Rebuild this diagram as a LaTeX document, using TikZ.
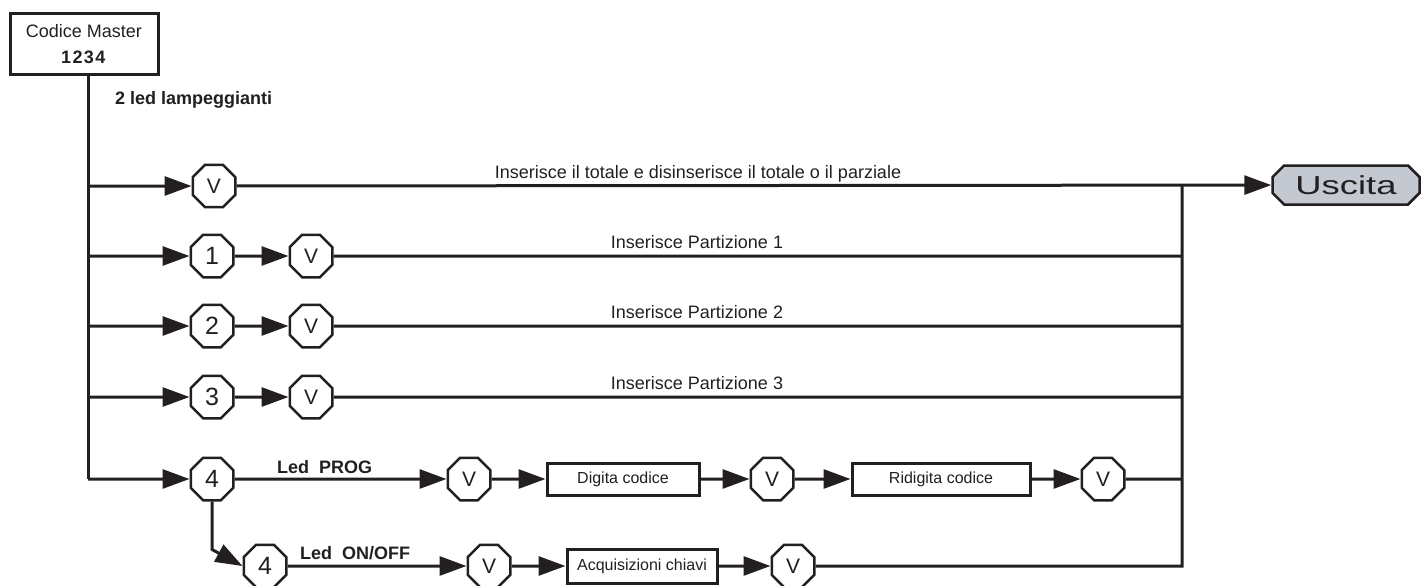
\documentclass[tikz,border=0pt]{standalone}
\usepackage{fontspec}
\usepackage{graphicx}
\setmainfont{Liberation Sans}
\usetikzlibrary{arrows.meta,shapes.geometric,shapes.misc}
\definecolor{ink}{RGB}{35,31,32}
\definecolor{exitgray}{RGB}{196,200,208}

\begin{document}
\begin{tikzpicture}[x=1pt,y=-1pt,
    wire/.style={draw=ink,line width=3pt},
    arr/.style={wire,-{Triangle[length=27pt,width=19pt]}},
    oct/.style={regular polygon,regular polygon sides=8,minimum size=46pt,inner sep=0pt,
        draw=ink,line width=2.5pt,fill=white,text=ink,font=\fontsize{25}{25}\selectfont},
    vkey/.style={oct,font=\fontsize{21}{21}\selectfont},
    tbox/.style={rectangle,draw=ink,line width=3pt,minimum height=32pt,inner sep=0pt,
        fill=white,text=ink,font=\fontsize{16}{16}\selectfont},
    exitbox/.style={chamfered rectangle,chamfered rectangle xsep=8pt,minimum width=147pt,
        minimum height=39pt,inner sep=0pt,draw=ink,line width=2.5pt,fill=exitgray,
        text=ink,font=\fontsize{26}{26}\selectfont},
    lbl/.style={anchor=base,inner sep=0pt,text=ink,font=\fontsize{18}{18}\selectfont},
    blbl/.style={anchor=base west,inner sep=0pt,text=ink,font=\fontsize{18}{18}\selectfont\bfseries}]
    \useasboundingbox (0,0) rectangle (1422,586);

    \node[tbox,minimum width=148pt,minimum height=61pt,align=center,
        font=\fontsize{18}{26}\selectfont] (master) at (84,44.5)
        {Codice Master\\\textbf{\addfontfeatures{LetterSpace=8}1234}};
    \node[blbl] (blink) at (115,104) {2 led lampeggianti};

    % bus junctions
    \foreach \r/\y in {0/186,1/256,2/326,3/397,4/479}
        \coordinate (in\r) at (88,\y);
    \foreach \r/\y in {0/186,1/256,2/326,3/397,4/479,5/566}
        \coordinate (out\r) at (1182,\y);
    \draw[wire] (master.south -| in0) -- (in4);

    % total
    \node[vkey] (v0) at (214,186) {V};
    \node[exitbox] (exit) at (1346,185) {\scalebox{1.4}[1]{Uscita}};
    \draw[arr] (in0) -- (v0);
    \draw[arr] (v0) -- (exit);
    \node[lbl] (t0) at (698,178) {Inserisce il totale e disinserisce il totale o il parziale};

    % partitions
    \foreach \r/\y in {1/256,2/326,3/397}
    {
        \node[oct] (k\r) at (212,\y) {\r};
        \node[vkey] (v\r) at (311,\y) {V};
        \draw[arr] (in\r) -- (k\r);
        \draw[arr] (k\r) -- (v\r);
        \draw[wire] (v\r) -- (out\r);
        \node[lbl] (t\r) at (697,\y-8) {Inserisce Partizione \r};
    }

    % code change
    \node[oct] (k4) at (212,479) {4};
    \node[blbl] (prog) at (277,473) {Led\ \ PROG};
    \node[vkey] (v4) at (469,479) {V};
    \node[tbox,minimum width=152pt] (digit) at (623,479) {Digita codice};
    \node[vkey] (v5) at (772,479) {V};
    \node[tbox,minimum width=178pt] (redigit) at (941,479) {Ridigita codice};
    \node[vkey] (v6) at (1103,479) {V};
    \draw[arr] (in4) -- (k4);
    \draw[arr] (k4) -- (v4);
    \draw[arr] (v4) -- (digit);
    \draw[arr] (digit) -- (v5);
    \draw[arr] (v5) -- (redigit);
    \draw[arr] (redigit) -- (v6);
    \draw[wire] (v6) -- (out4);

    % keys
    \node[oct] (k5) at (265,566) {4};
    \node[blbl] (onoff) at (300,559) {Led\ \ ON/OFF};
    \node[vkey] (v7) at (489,566) {V};
    \node[tbox,minimum width=150pt,minimum height=34pt] (keys) at (642,566) {Acquisizioni chiavi};
    \node[vkey] (v8) at (793,566) {V};
    \draw[arr] (k4.south) -- ++(0,48) -- (k5.west);
    \draw[arr] (k5) -- (v7);
    \draw[arr] (v7) -- (keys);
    \draw[arr] (keys) -- (v8);
    \draw[wire] (v8) -- (out5) -- (out0);

\end{tikzpicture}
\end{document}
